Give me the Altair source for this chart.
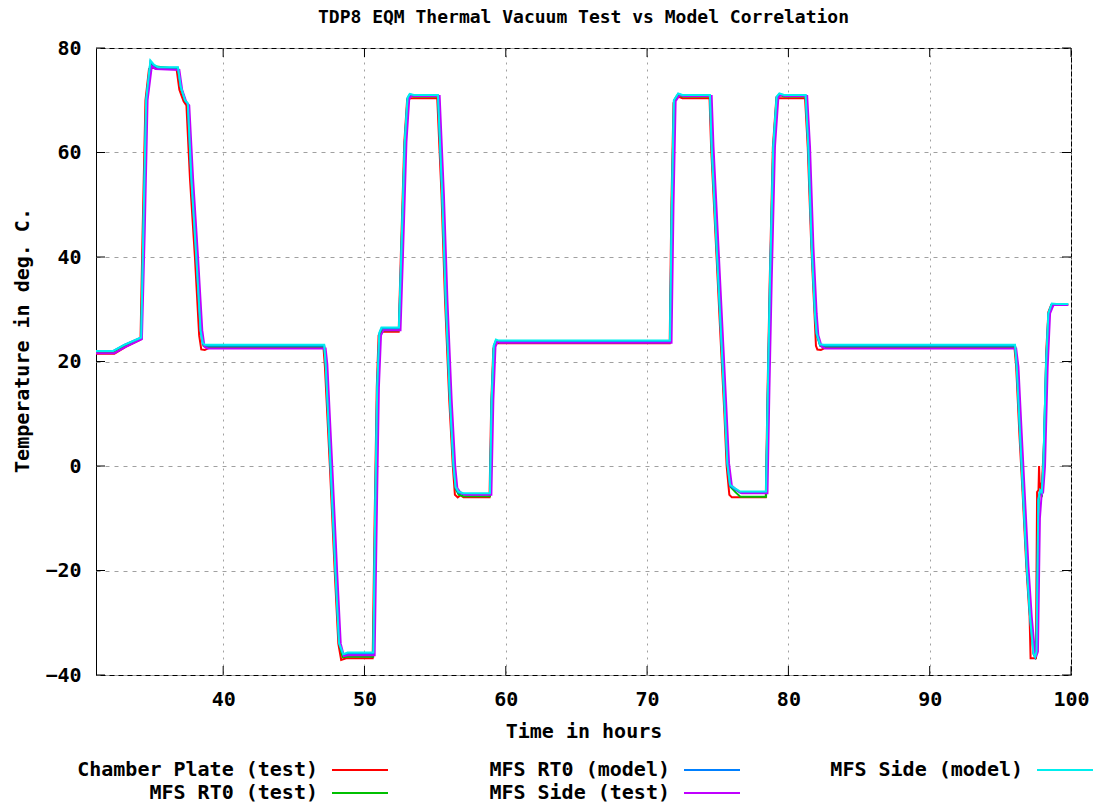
import altair as alt
import pandas as pd

SERIES = ["Chamber Plate (test)", "MFS RT0 (test)", "MFS RT0 (model)",
          "MFS Side (test)", "MFS Side (model)"]
COLORS = ["#ff0000", "#00c000", "#0080ff", "#c000ff", "#00eeee"]

# [hour, temperature degC]
CHAMBER_PLATE_TEST = [
    [31.0, 21.5], [32.3, 21.5], [33.1, 22.8], [34.15, 24.2], [34.3, 45.0], [34.5, 70.0],
    [34.75, 76.0], [35.0, 76.2], [36.7, 76.0], [36.9, 72.0], [37.2, 69.8], [37.4, 69.0],
    [37.65, 55.0], [38.0, 40.0], [38.3, 25.0], [38.45, 22.3], [38.7, 22.2], [39.0, 22.6],
    [47.1, 22.6], [47.2, 19.0], [47.55, 0.0], [47.9, -20.5], [48.15, -34.0], [48.35, -37.1],
    [48.7, -36.8], [50.58, -36.8], [50.72, -10.0], [50.87, 15.0], [51.0, 25.0], [51.2, 25.7],
    [52.42, 25.7], [52.57, 40.0], [52.82, 62.0], [53.02, 70.2], [53.3, 70.4], [55.15, 70.4],
    [55.45, 52.0], [55.7, 31.8], [56.0, 12.6], [56.25, 0.0], [56.4, -5.5], [56.6, -6.0],
    [56.8, -5.6], [57.0, -6.0], [58.85, -6.0], [58.97, 12.0], [59.12, 22.5], [59.3, 23.5],
    [71.6, 23.5], [71.72, 50.0], [71.87, 69.5], [72.1, 70.8], [72.5, 70.4], [74.42, 70.4],
    [74.53, 61.0], [74.88, 42.0], [75.23, 22.8], [75.47, 10.0], [75.63, 0.0], [75.82, -5.5],
    [76.0, -6.0], [78.4, -6.0], [78.53, 15.0], [78.68, 35.6], [78.9, 61.0], [79.15, 70.5],
    [79.4, 70.4], [81.18, 70.4], [81.37, 61.0], [81.62, 42.0], [81.85, 29.0], [81.95, 23.0],
    [82.05, 22.3], [82.3, 22.2], [82.6, 22.6], [96.0, 22.6], [96.12, 19.0], [96.35, 6.0],
    [96.6, -6.5], [96.84, -19.3], [97.07, -28.8], [97.14, -36.8], [97.52, -36.8],
    [97.6, -5.0], [97.7, -4.6], [97.74, 0.0], [97.8, -4.8], [97.95, -3.0], [98.1, 5.0],
    [98.25, 22.0], [98.4, 29.5], [98.6, 30.8], [99.8, 30.8],
]

MFS_RT0_TEST = [
    [31.0, 21.8], [32.2, 21.8], [33.0, 23.0], [34.2, 24.4], [34.37, 45.0], [34.57, 70.0],
    [34.88, 77.0], [35.1, 76.5], [36.8, 76.0], [37.02, 72.3], [37.32, 69.8], [37.52, 69.2],
    [37.8, 55.0], [38.15, 40.0], [38.45, 26.0], [38.6, 23.0], [38.8, 22.8], [47.15, 22.8],
    [47.27, 19.5], [47.62, 0.0], [47.97, -20.5], [48.22, -34.0], [48.45, -36.6], [48.8, -36.5],
    [50.62, -36.5], [50.77, -10.0], [50.92, 15.0], [51.07, 25.0], [51.25, 26.0], [52.45, 26.0],
    [52.62, 40.0], [52.87, 62.0], [53.07, 70.3], [53.25, 70.9], [53.5, 70.7], [55.22, 70.7],
    [55.52, 52.0], [55.77, 31.8], [56.07, 12.6], [56.32, 0.0], [56.47, -4.5], [56.67, -5.5],
    [57.0, -5.8], [58.88, -5.8], [59.02, 12.6], [59.17, 22.8], [59.32, 23.9], [59.5, 23.7],
    [71.63, 23.7], [71.77, 50.0], [71.92, 69.8], [72.22, 71.0], [72.5, 70.7], [74.46, 70.7],
    [74.59, 61.1], [74.94, 42.0], [75.3, 22.8], [75.53, 10.1], [75.7, 0.5], [75.9, -4.0],
    [76.25, -5.0], [76.6, -5.9], [78.42, -5.9], [78.56, 15.0], [78.72, 35.6], [78.95, 61.1],
    [79.19, 70.5], [79.38, 71.0], [79.7, 70.7], [81.23, 70.7], [81.43, 61.1], [81.67, 42.0],
    [81.9, 29.2], [82.02, 25.0], [82.26, 23.0], [82.5, 22.8], [96.05, 22.8], [96.18, 19.0],
    [96.41, 6.3], [96.65, -6.5], [96.89, -19.3], [97.12, -28.8], [97.36, -36.0],
    [97.48, -36.6], [97.58, -35.5], [97.71, -6.5], [97.83, -5.0], [97.95, -5.5],
    [98.06, -0.1], [98.25, 19.0], [98.42, 29.2], [98.66, 31.0], [99.8, 31.0],
]

MFS_RT0_MODEL = [
    [31.0, 22.0], [32.2, 22.0], [33.0, 23.2], [34.2, 24.6], [34.35, 45.0], [34.55, 70.0],
    [34.85, 77.4], [35.1, 76.6], [35.4, 76.2], [36.8, 76.2], [37.0, 72.5], [37.3, 70.0],
    [37.5, 69.3], [37.75, 55.0], [38.1, 40.0], [38.4, 26.0], [38.55, 23.4], [38.7, 23.0],
    [47.15, 23.0], [47.25, 19.7], [47.6, 0.0], [47.95, -20.5], [48.2, -33.9], [48.5, -36.2],
    [48.8, -36.0], [50.63, -36.0], [50.75, -10.0], [50.9, 15.0], [51.05, 25.3], [51.2, 26.3],
    [52.44, 26.3], [52.6, 40.0], [52.85, 62.0], [53.05, 70.4], [53.2, 71.1], [53.5, 70.9],
    [55.2, 70.9], [55.5, 52.0], [55.75, 31.8], [56.05, 12.6], [56.3, 0.0], [56.45, -4.2],
    [56.65, -5.1], [57.0, -5.4], [58.88, -5.4], [59.0, 12.6], [59.15, 23.0], [59.3, 24.0],
    [59.5, 23.8], [71.62, 23.8], [71.75, 50.0], [71.9, 70.0], [72.2, 71.2], [72.5, 70.9],
    [74.45, 70.9], [74.57, 61.1], [74.92, 42.0], [75.28, 22.8], [75.51, 10.1], [75.68, 0.5],
    [75.87, -3.8], [76.22, -4.5], [76.6, -5.1], [78.42, -5.1], [78.55, 15.0], [78.7, 35.6],
    [78.93, 61.1], [79.17, 70.6], [79.36, 71.2], [79.7, 70.9], [81.22, 70.9], [81.41, 61.1],
    [81.65, 42.0], [81.88, 29.2], [82.0, 25.2], [82.24, 23.1], [82.5, 23.0], [96.04, 23.0],
    [96.16, 19.0], [96.39, 6.3], [96.63, -6.5], [96.87, -19.3], [97.1, -28.8], [97.34, -35.9],
    [97.46, -36.6], [97.56, -35.6], [97.69, -6.5], [97.81, -4.8], [97.93, -5.2], [98.04, -0.1],
    [98.23, 19.0], [98.4, 29.2], [98.64, 31.0], [99.0, 30.9], [99.8, 30.9],
]

MFS_SIDE_TEST = [
    [31.0, 21.6], [32.3, 21.6], [33.1, 22.8], [34.25, 24.3], [34.45, 45.0], [34.65, 70.0],
    [34.95, 76.5], [35.2, 76.0], [36.9, 75.8], [37.1, 72.0], [37.4, 69.6], [37.6, 69.0],
    [37.87, 55.0], [38.22, 40.0], [38.52, 26.0], [38.68, 22.8], [38.9, 22.5], [47.25, 22.5],
    [47.37, 19.5], [47.72, 0.0], [48.07, -20.5], [48.32, -34.0], [48.55, -36.4], [48.9, -36.2],
    [50.72, -36.2], [50.87, -10.0], [51.02, 15.0], [51.17, 25.0], [51.35, 26.0], [52.55, 26.0],
    [52.72, 40.0], [52.97, 62.0], [53.17, 70.3], [53.35, 70.9], [53.6, 70.8], [55.32, 70.8],
    [55.62, 52.0], [55.87, 31.8], [56.17, 12.6], [56.42, 0.0], [56.57, -4.2], [56.77, -5.0],
    [57.1, -5.5], [58.98, -5.5], [59.12, 12.6], [59.27, 22.8], [59.42, 23.8], [59.6, 23.6],
    [71.73, 23.6], [71.87, 50.0], [72.02, 69.8], [72.32, 71.0], [72.6, 70.8], [74.57, 70.8],
    [74.7, 61.1], [75.05, 42.0], [75.4, 22.8], [75.63, 10.1], [75.8, 0.5], [76.0, -3.8],
    [76.35, -4.6], [76.7, -5.2], [78.52, -5.2], [78.66, 15.0], [78.82, 35.6], [79.05, 61.1],
    [79.29, 70.5], [79.48, 71.0], [79.8, 70.8], [81.33, 70.8], [81.53, 61.1], [81.77, 42.0],
    [82.0, 29.2], [82.12, 25.0], [82.36, 22.8], [82.6, 22.5], [96.12, 22.5], [96.28, 19.0],
    [96.51, 6.3], [96.75, -6.5], [96.99, -19.3], [97.22, -28.8], [97.46, -36.0],
    [97.56, -36.3], [97.66, -35.5], [97.8, -10.0], [97.92, -5.5], [98.03, -5.0],
    [98.16, -0.1], [98.35, 19.0], [98.52, 29.2], [98.76, 30.8], [99.8, 30.8],
]

MFS_SIDE_MODEL = [
    [31.0, 22.0], [32.2, 22.0], [33.0, 23.2], [34.2, 24.6], [34.35, 45.0], [34.55, 70.0],
    [34.85, 77.6], [35.1, 76.8], [35.4, 76.3], [36.8, 76.3], [37.0, 72.6], [37.3, 70.0],
    [37.5, 69.4], [37.75, 55.0], [38.1, 40.0], [38.4, 26.0], [38.55, 23.6], [38.7, 23.2],
    [47.15, 23.2], [47.25, 19.7], [47.6, 0.0], [47.95, -20.5], [48.2, -33.9], [48.5, -36.0],
    [48.8, -35.7], [50.63, -35.7], [50.75, -10.0], [50.9, 15.0], [51.05, 25.5], [51.2, 26.5],
    [52.44, 26.5], [52.6, 40.0], [52.85, 62.0], [53.05, 70.5], [53.2, 71.2], [53.5, 71.0],
    [55.2, 71.0], [55.5, 52.0], [55.75, 31.8], [56.05, 12.6], [56.3, 0.0], [56.45, -4.0],
    [56.65, -4.9], [57.0, -5.2], [58.88, -5.2], [59.0, 12.6], [59.15, 23.0], [59.3, 24.2],
    [59.5, 24.0], [71.62, 24.0], [71.75, 50.0], [71.9, 70.0], [72.2, 71.3], [72.5, 71.0],
    [74.45, 71.0], [74.57, 61.1], [74.92, 42.0], [75.28, 22.8], [75.51, 10.1], [75.68, 0.5],
    [75.87, -3.6], [76.22, -4.3], [76.6, -4.9], [78.42, -4.9], [78.55, 15.0], [78.7, 35.6],
    [78.93, 61.1], [79.17, 70.7], [79.36, 71.3], [79.7, 71.0], [81.22, 71.0], [81.41, 61.1],
    [81.65, 42.0], [81.88, 29.2], [82.0, 25.4], [82.24, 23.3], [82.5, 23.2], [96.04, 23.2],
    [96.16, 19.0], [96.39, 6.3], [96.63, -6.5], [96.87, -19.3], [97.1, -28.8], [97.34, -35.9],
    [97.46, -36.5], [97.56, -35.5], [97.69, -6.5], [97.81, -4.6], [97.93, -5.0], [98.04, -0.1],
    [98.23, 19.0], [98.4, 29.2], [98.64, 31.1], [99.0, 31.0], [99.8, 31.0],
]

X_TICKS = [40, 50, 60, 70, 80, 90, 100]
Y_TICKS = [-40, -20, 0, 20, 40, 60, 80]

TITLE = "TDP8 EQM Thermal Vacuum Test vs Model Correlation"
X_TITLE = "Time in hours"
Y_TITLE = "Temperature in deg. C."

ALL = [CHAMBER_PLATE_TEST, MFS_RT0_TEST, MFS_RT0_MODEL, MFS_SIDE_TEST, MFS_SIDE_MODEL]
rows = []
for name, pts in zip(SERIES, ALL):
    for i, (h, t) in enumerate(pts):
        rows.append({"series": name, "hour": h, "temp": t, "idx": i})
df = pd.DataFrame(rows)

W, H = 975, 627
FONT = "DejaVu Sans Mono"
FS = 20
FS_TITLE = 18
xs = alt.Scale(domain=[31, 100], nice=False, zero=False)
ys = alt.Scale(domain=[-40, 80], nice=False, zero=False)

X_AXIS = alt.Axis(
    values=X_TICKS, grid=True, gridColor="#a0a0a0", gridDash=[2, 5], gridWidth=1,
    ticks=False, domain=False, labelFont=FONT, labelFontSize=FS, labelFontWeight="bold",
    labelColor="black", labelPadding=14, labelFlush=False, labelBaseline="top",
    title=X_TITLE, titleFont=FONT, titleFontSize=FS, titleFontWeight="bold",
    titleColor="black", titleX=W / 2, titleY=56, titleBaseline="middle")
Y_AXIS = alt.Axis(
    values=Y_TICKS, grid=True, gridColor="#a0a0a0", gridDash=[4, 5], gridWidth=1,
    ticks=False, domain=False, labelFont=FONT, labelFontSize=FS, labelFontWeight="bold",
    labelColor="black", labelPadding=15, labelFlush=False,
    title=Y_TITLE, titleFont=FONT, titleFontSize=FS, titleFontWeight="bold",
    titleColor="black", titleX=-74, titleY=292, titleAngle=270,
    titleBaseline="middle", titleAlign="center")

layers = []
for k, (name, col) in enumerate(zip(SERIES, COLORS)):
    layers.append(
        alt.Chart(df).transform_filter(alt.datum.series == name)
        .mark_line(color=col, strokeWidth=2, interpolate="linear")
        .encode(x=alt.X("hour:Q", scale=xs, axis=X_AXIS),
                y=alt.Y("temp:Q", scale=ys, axis=Y_AXIS),
                order="idx:Q")
    )

ytick_df = pd.DataFrame({"temp": Y_TICKS})
xtick_df = pd.DataFrame({"hour": X_TICKS})
for x1, x2 in [(0, 9), (W - 9, W)]:
    layers.append(alt.Chart(ytick_df).mark_rule(color="black", strokeWidth=1).encode(
        y=alt.Y("temp:Q", scale=ys, axis=Y_AXIS), x=alt.value(x1), x2=alt.value(x2)))
for y1, y2 in [(H - 9, H), (0, 9)]:
    layers.append(alt.Chart(xtick_df).mark_rule(color="black", strokeWidth=1).encode(
        x=alt.X("hour:Q", scale=xs, axis=X_AXIS), y=alt.value(y1), y2=alt.value(y2)))

# legend (gnuplot style: label then line sample)
legend_df = pd.DataFrame({"series": SERIES})
LEG_TEXT_RIGHT = [222, 222, 574, 574, 927]
LEG_ROW_Y = [722, 745, 722, 745, 722]
for k, (name, col) in enumerate(zip(SERIES, COLORS)):
    xr = LEG_TEXT_RIGHT[k]
    yy = LEG_ROW_Y[k]
    sub = alt.Chart(legend_df).transform_filter(alt.datum.series == name)
    layers.append(sub.mark_text(font=FONT, fontSize=FS, fontWeight="bold", align="right",
                                baseline="middle", color="black").encode(
        text="series:N", x=alt.value(xr), y=alt.value(yy)))
    layers.append(sub.mark_rule(color=col, strokeWidth=2).encode(
        x=alt.value(xr + 14), x2=alt.value(xr + 70), y=alt.value(yy)))

chart = alt.layer(*layers).properties(
    width=W, height=H,
    title=alt.TitleParams(TITLE, font=FONT, fontSize=FS_TITLE, fontWeight="bold", color="black",
                          anchor="middle", frame="group", offset=11),
    autosize=alt.AutoSizeParams(type="none"),
    padding={"left": 96, "top": 48, "right": 30, "bottom": 131},
    background="white",
).configure_view(stroke="black", strokeWidth=1)

chart.save("out.html", embed_options={"renderer": "svg", "actions": False})
